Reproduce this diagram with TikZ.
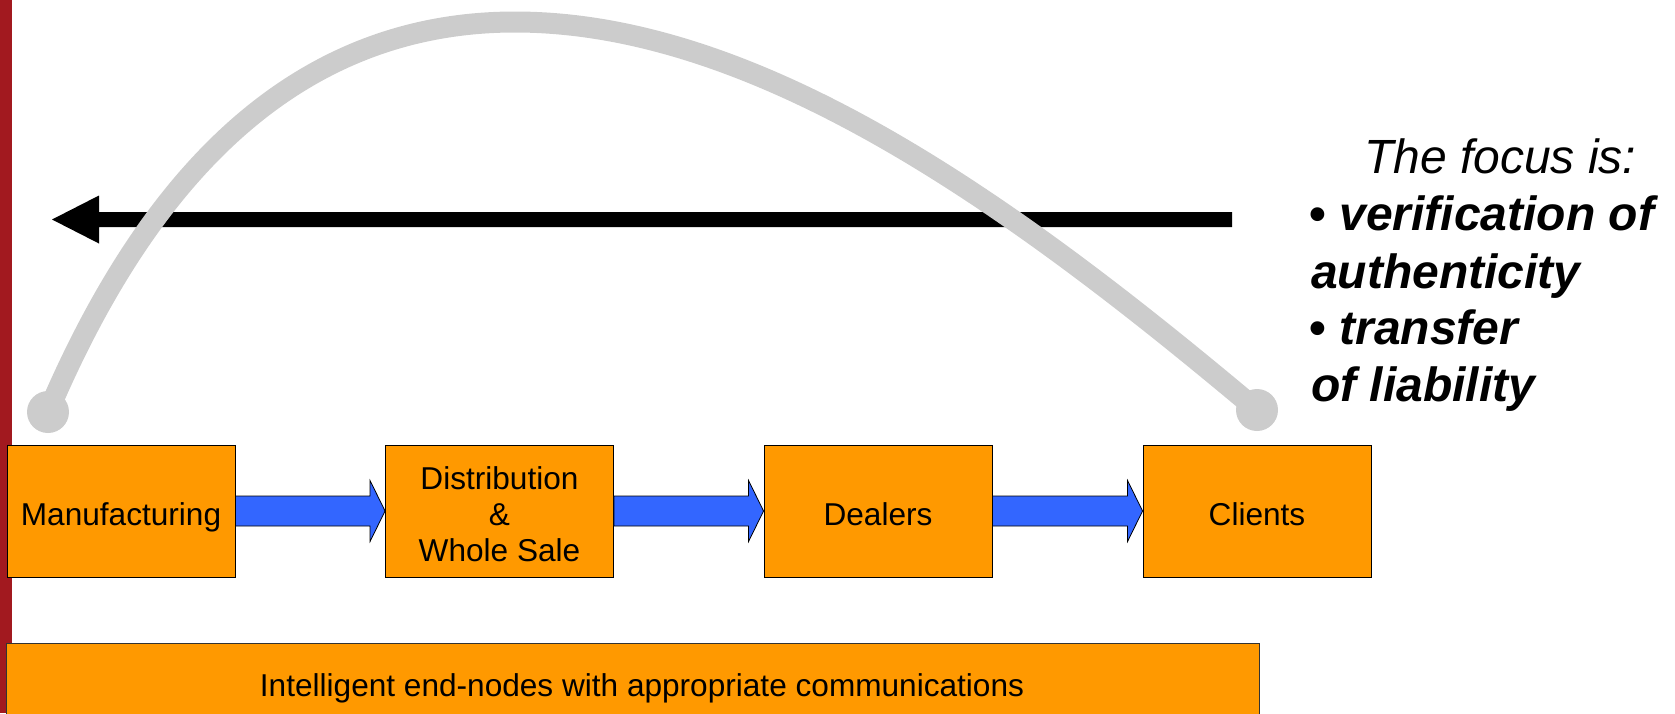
\documentclass[tikz,border=0pt]{standalone}
\usepackage{fontspec}
\setmainfont{Liberation Sans}
\usetikzlibrary{calc}

\definecolor{barred}{RGB}{162,25,31}
\definecolor{boxorange}{RGB}{255,153,0}
\definecolor{flowblue}{RGB}{51,102,255}
\definecolor{arcgray}{RGB}{204,204,204}

% invisible strut: puts the baseline of a box line 14pt below the box centre
\newcommand{\boxstrut}{\rule[-2pt]{0pt}{32pt}}

\begin{document}
\begin{tikzpicture}[x=1pt,y=-1pt,
  stage/.style={draw=black, line width=0.9pt, fill=boxorange,
    minimum width=228pt, minimum height=132pt, inner sep=0pt,
    align=center, font=\fontsize{31.6}{36}\selectfont},
  panel/.style={draw=black!80, line width=1pt, fill=boxorange,
    minimum width=1253pt, minimum height=82pt, inner sep=0pt},
  flow/.style={draw=black, line width=0.8pt, fill=flowblue},
  endcap/.style={circle, fill=arcgray, minimum size=42pt, inner sep=0pt},
  loop/.style={draw=arcgray, line width=21pt},
  focus/.style={anchor=base west, inner sep=0pt,
    font=\fontsize{48}{57}\selectfont},
  ]
\useasboundingbox (0,0) rectangle (1675,713);
\clip (0,0) rectangle (1675,713);

% left margin bar
\fill[barred] (0,0) rectangle (12,713);

% supply chain stages
\node[stage] (m) at (121,511)   {\boxstrut\smash{Manufacturing}};
\node[stage] (d) at (499.5,511) {\boxstrut Distribution\\\boxstrut\&\\\boxstrut Whole Sale};
\node[stage] (l) at (878,511)   {\boxstrut\smash{Dealers}};
\node[stage] (c) at (1257,511)  {\boxstrut\smash{Clients}};

% block arrows between stages
\foreach \a/\b in {m/d, d/l, l/c}{
  \draw[flow] ([yshift=15pt]\a.east) -- ([xshift=-15pt,yshift=15pt]\b.west)
    -- ([xshift=-15pt,yshift=30.5pt]\b.west) -- (\b.west)
    -- ([xshift=-15pt,yshift=-30.5pt]\b.west) -- ([xshift=-15pt,yshift=-15pt]\b.west)
    -- ([yshift=-15pt]\a.east) -- cycle;
}

% bottom panel
\node[panel] (base) at (632.5,684) {};
\node[anchor=base, inner sep=0pt, font=\fontsize{31.6}{36}\selectfont] (note)
  at (642,696) {Intelligent end-nodes with appropriate communications};

% backward information arrow
\coordinate (tip) at (52,219.5);
\coordinate (tail) at (1232,219.5);
\fill[black] (tip) -- ($(tip)+(47,-24)$) -- ($(tip)+(47,-7.5)$)
  -- ($(tail)+(0,-7.5)$) -- ($(tail)+(0,7.5)$) -- ($(tip)+(47,7.5)$)
  -- ($(tip)+(47,24)$) -- cycle;

% gray link from manufacturer to client
\node[endcap] (p) at (48,412) {};
\node[endcap] (q) at (1257,410) {};
\coordinate (apex) at (515,22);
\draw[loop] (p.center) .. controls (142,191) and (285,22) .. (apex)
  .. controls (765,22) and (1026,216) .. (q.center);

% focus list
\node[focus] (f0) at (1364,173.5) {\itshape The focus is:};
\node[focus] (f1) at (1309,230)   {\bfseries • \itshape verification of};
\node[focus] (f2) at (1311,288)   {\bfseries\itshape authenticity};
\node[focus] (f3) at (1309,344.5) {\bfseries • \itshape transfer};
\node[focus] (f4) at (1311,401)   {\bfseries\itshape of liability};
\end{tikzpicture}
\end{document}
